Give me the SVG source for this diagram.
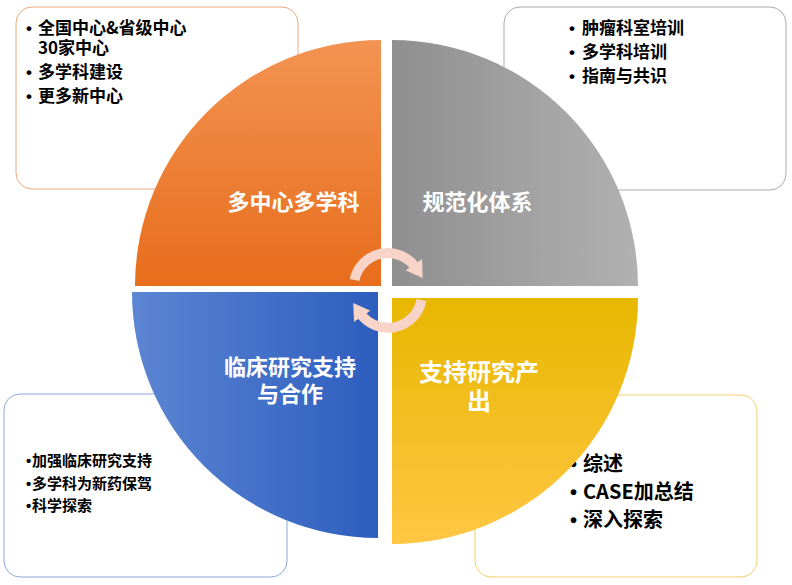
<svg xmlns="http://www.w3.org/2000/svg" width="792" height="585" viewBox="0 0 792 585">
<style>
.box{fill:#fff;stroke-width:1}
.t{font-family:"Noto Sans CJK SC","Microsoft YaHei",sans-serif;font-weight:bold;fill:#000}
.bu{font-family:"Liberation Sans",Arial,sans-serif;font-weight:bold;fill:#000}
.lbl{font-family:"Noto Sans CJK SC","Microsoft YaHei",sans-serif;font-weight:bold;fill:#fff;text-anchor:middle}
.arc{fill:none;stroke:#F7D4C7;stroke-width:10}
</style>
<defs>
<linearGradient id="gO" x1="0" y1="0" x2="0" y2="1"><stop offset="0" stop-color="#F39352"/><stop offset="1" stop-color="#E76D1B"/></linearGradient>
<linearGradient id="gG" x1="0" y1="0" x2="1" y2="0"><stop offset="0" stop-color="#8F8F8F"/><stop offset="1" stop-color="#B1B1B1"/></linearGradient>
<linearGradient id="gB" x1="0" y1="0" x2="1" y2="0"><stop offset="0" stop-color="#5C86D3"/><stop offset="1" stop-color="#2D5DBE"/></linearGradient>
<linearGradient id="gY" x1="0" y1="0" x2="0" y2="1"><stop offset="0" stop-color="#E7B700"/><stop offset="1" stop-color="#FFC744"/></linearGradient>
<marker id="ah" markerUnits="userSpaceOnUse" markerWidth="24" markerHeight="24" refX="4" refY="12" orient="auto" viewBox="0 0 24 24">
<path d="M0,2 L16,12 L0,22 Z" fill="#F7D4C7"/>
</marker>
</defs>

<g id="box-tl">
<rect class="box" x="16" y="7" width="282" height="182" rx="16" stroke="#E9A87A"/>
<text class="bu" font-size="17" x="26" y="34">•</text>
<text class="t" font-size="17" x="38" y="34">全国中心&amp;省级中心</text>
<text class="t" font-size="17" x="38" y="54">30家中心</text>
<text class="bu" font-size="17" x="26" y="77.5">•</text>
<text class="t" font-size="17" x="38" y="77.5">多学科建设</text>
<text class="bu" font-size="17" x="26" y="101.5">•</text>
<text class="t" font-size="17" x="38" y="101.5">更多新中心</text>
</g>

<g id="box-tr">
<rect class="box" x="504" y="7" width="282" height="183" rx="16" stroke="#ABABAB"/>
<text class="bu" font-size="17" x="569" y="33.5">•</text>
<text class="t" font-size="17" x="582" y="33.5">肿瘤科室培训</text>
<text class="bu" font-size="17" x="569" y="57.5">•</text>
<text class="t" font-size="17" x="582" y="57.5">多学科培训</text>
<text class="bu" font-size="17" x="569" y="81.5">•</text>
<text class="t" font-size="17" x="582" y="81.5">指南与共识</text>
</g>

<g id="box-bl">
<rect class="box" x="4" y="394" width="283" height="183" rx="16" stroke="#8EA7D8"/>
<text class="bu" font-size="15" x="26" y="465.5">•</text>
<text class="t" font-size="15" x="32" y="465.5">加强临床研究支持</text>
<text class="bu" font-size="15" x="26" y="488.5">•</text>
<text class="t" font-size="15" x="32" y="488.5">多学科为新药保驾</text>
<text class="bu" font-size="15" x="26" y="510.5">•</text>
<text class="t" font-size="15" x="32" y="510.5">科学探索</text>
</g>

<g id="box-br">
<rect class="box" x="475" y="395" width="282" height="182" rx="16" stroke="#F3CF6C"/>
<text class="bu" font-size="20" x="570" y="471">•</text>
<text class="t" font-size="20" x="583" y="471">综述</text>
<text class="bu" font-size="20" x="570" y="499">•</text>
<text class="t" font-size="20" x="583" y="499">CASE加总结</text>
<text class="bu" font-size="20" x="570" y="527">•</text>
<text class="t" font-size="20" x="583" y="527">深入探索</text>
</g>

<g id="q-orange">
<path d="M381,286 L135,286 A246,246 0 0 1 381,40 Z" fill="url(#gO)"/>
<text class="lbl" font-size="22" x="293.5" y="210">多中心多学科</text>
</g>
<g id="q-gray">
<path d="M392,286 L392,40 A246,246 0 0 1 638,286 Z" fill="url(#gG)"/>
<text class="lbl" font-size="22" x="477.5" y="210">规范化体系</text>
</g>
<g id="q-blue">
<path d="M378,292 L132,292 A246,246 0 0 0 378,538 Z" fill="url(#gB)"/>
<text class="lbl" font-size="22" x="290" y="375">临床研究支持</text>
<text class="lbl" font-size="22" x="290" y="401.5">与合作</text>
</g>
<g id="q-yellow">
<path d="M392,298 L638,298 A246,246 0 0 1 392,544 Z" fill="url(#gY)"/>
<text class="lbl" font-size="24" x="479" y="381">支持研究产</text>
<text class="lbl" font-size="24" x="479" y="410">出</text>
</g>

<g id="connectors">
<path class="arc" d="M354.5,280 A34,34 0 0 1 416,268" marker-end="url(#ah)"/>
<path class="arc" d="M421.5,300 A34,34 0 0 1 360,313" marker-end="url(#ah)"/>
</g>
</svg>
